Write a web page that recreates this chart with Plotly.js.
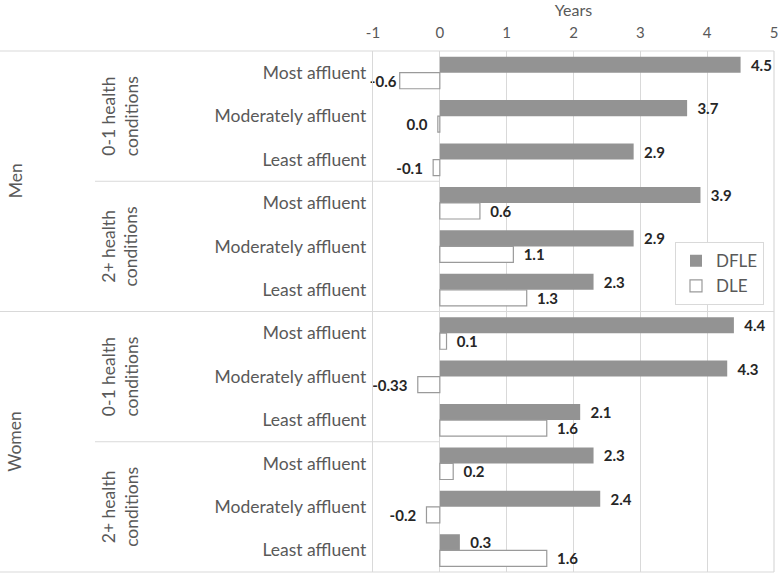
<!DOCTYPE html>
<html>
<head>
<meta charset="utf-8">
<script src="https://cdn.plot.ly/plotly-3.0.1.min.js"></script>
<style>html,body{margin:0;padding:0;background:#fff}#chart{width:778px;height:575px}</style>
</head>
<body>
<div id="chart"></div>
<script>
// ---- data ----
const sexes = ["Men", "Women"];
const conditions = ["0-1 health<br>conditions", "2+ health<br>conditions"];
const affluence = ["Most affluent", "Moderately affluent", "Least affluent"];
const dfle = [4.5, 3.7, 2.9, 3.9, 2.9, 2.3, 4.4, 4.3, 2.1, 2.3, 2.4, 0.3];
const dfleLabels = ["4.5", "3.7", "2.9", "3.9", "2.9", "2.3", "4.4", "4.3", "2.1", "2.3", "2.4", "0.3"];
const dle = [-0.6, -0.03, -0.1, 0.6, 1.1, 1.3, 0.1, -0.33, 1.6, 0.2, -0.2, 1.6];
const dleLabels = ["-0.6", "0.0", "-0.1", "0.6", "1.1", "1.3", "0.1", "-0.33", "1.6", "0.2", "-0.2", "1.6"];
const xTicks = [-1, 0, 1, 2, 3, 4, 5];

// ---- build category keys ----
const keys = [], tickText = [];
sexes.forEach((s, si) => conditions.forEach((c, ci) => affluence.forEach(a => {
  keys.push(s + "|" + ci + "|" + a);
  tickText.push(a);
})));

const grey = "#595959";
const font = "Lato, 'Open Sans', sans-serif";
const NB = "\u00a0";
// label gap from bar end; labels that would hit the category text sit closer
const padTpl = vals => vals.map(v => {
  if (v < -0.5) return "%{text}";
  return v < 0 ? "%{text}" + NB + NB : NB + NB + "%{text}";
});

const labelFont = {family: font, size: 15, color: "#262626", weight: "bold"};
const traces = [
  {
    type: "bar", orientation: "h", name: "DFLE",
    y: keys, x: dfle, text: dfleLabels, texttemplate: padTpl(dfle),
    textposition: "outside", cliponaxis: false, constraintext: "none",
    textfont: labelFont,
    marker: {color: "#939393", line: {color: "#939393", width: 0}},
    legendgroup: "a", hoverinfo: "x+y"
  },
  {
    type: "bar", orientation: "h", name: "DLE",
    y: keys, x: dle, text: dleLabels, texttemplate: padTpl(dle),
    textposition: "outside", cliponaxis: false, constraintext: "none",
    textfont: labelFont,
    marker: {color: "#ffffff", line: {color: "#9a9a9a", width: 1.2}},
    legendgroup: "b", hoverinfo: "x+y"
  }
];

const L = 373, W = 778, R = 4, plotW = W - L - R;
const px = p => (p - L) / plotW;

const shapes = [];
const lineStyle = {color: "#d9d9d9", width: 1.2};
shapes.push({type: "line", xref: "paper", yref: "paper", x0: px(0), x1: 1, y0: 1, y1: 1, line: lineStyle});
shapes.push({type: "line", xref: "paper", yref: "paper", x0: px(0), x1: 1, y0: 0, y1: 0, line: lineStyle});
shapes.push({type: "line", xref: "paper", yref: "paper", x0: 1, x1: 1, y0: 0, y1: 1, line: lineStyle});
shapes.push({type: "line", xref: "paper", yref: "y", x0: px(0), x1: 1, y0: 5.5, y1: 5.5, line: lineStyle});
[2.5, 8.5].forEach(v => shapes.push({type: "line", xref: "paper", yref: "y", x0: px(95), x1: px(440), y0: v, y1: v, line: lineStyle}));

const annotations = [];
sexes.forEach((s, si) => {
  annotations.push({text: s, xref: "paper", yref: "y", x: px(15), y: si * 6 + 2.5,
    textangle: -90, showarrow: false, xanchor: "center", yanchor: "middle",
    font: {family: font, size: 17.5, color: grey}});
  conditions.forEach((c, ci) => {
    annotations.push({text: c, xref: "paper", yref: "y", x: px(120), y: si * 6 + ci * 3 + 1,
      textangle: -90, showarrow: false, xanchor: "center", yanchor: "middle",
      font: {family: font, size: 17.5, color: grey}});
  });
});

const layout = {
  width: 778, height: 575,
  margin: {l: L, r: R, t: 51, b: 3, pad: 0},
  paper_bgcolor: "#ffffff", plot_bgcolor: "#ffffff",
  font: {family: font, color: grey},
  barmode: "group", bargap: 0.26, bargroupgap: 0,
  showlegend: true,
  legend: {
    x: px(675), y: 0.633, xanchor: "left", yanchor: "top",
    bgcolor: "#ffffff", bordercolor: "#d9d9d9", borderwidth: 1,
    font: {family: font, size: 17, color: grey},
    traceorder: "normal", tracegroupgap: 2
  },
  xaxis: {
    side: "top", range: [-1, 5], tickvals: xTicks, ticktext: xTicks.map(String),
    showgrid: true, gridcolor: "#d9d9d9", gridwidth: 1.2, zeroline: false,
    ticks: "", ticklabelstandoff: 9, showline: false, ticklabeloverflow: "allow",
    tickfont: {family: font, size: 15, color: grey},
    title: {text: "Years", standoff: 12, font: {family: font, size: 16, color: grey}},
    fixedrange: true
  },
  yaxis: {
    type: "category", categoryorder: "array", categoryarray: keys,
    autorange: "reversed", tickvals: keys, ticktext: tickText,
    showgrid: false, zeroline: false, ticks: "",
    showline: true, linecolor: "#d9d9d9", linewidth: 1.2,
    ticklabelstandoff: 2,
    tickfont: {family: font, size: 17.5, color: grey},
    fixedrange: true
  },
  shapes: shapes,
  annotations: annotations
};

Plotly.newPlot("chart", traces, layout, {displayModeBar: false, staticPlot: true});
</script>
</body>
</html>
